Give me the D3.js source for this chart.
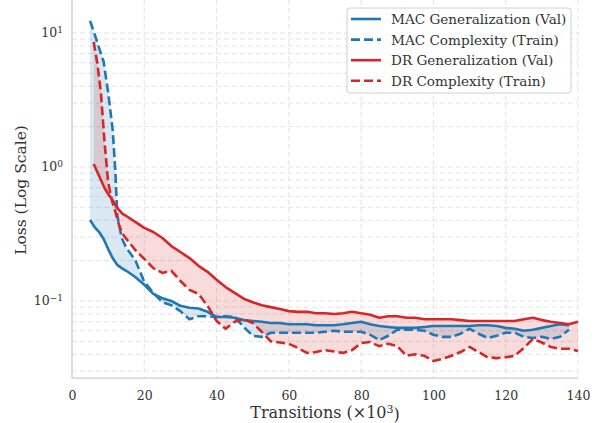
<!DOCTYPE html>
<html>
<head>
<meta charset="utf-8">
<script src="https://cdn.jsdelivr.net/npm/d3@7"></script>
<style>
  html, body { margin: 0; padding: 0; background: #fff; }
  svg { display: block; }
  text { font-family: "DejaVu Serif", serif; }
</style>
</head>
<body>
<svg id="chart" width="595" height="423"></svg>
<script>
// ---------------- data ----------------
const macX = [5, 6.25, 7.5, 8.75, 10, 11.25, 12, 12.5, 13.75, 15,
  17.5, 20, 22.5, 25, 27.5, 30, 32.5, 35, 37.5, 40,
  42.5, 45, 47.5, 50, 52.5, 55, 57.5, 60, 62.5, 65,
  67.5, 70, 72.5, 75, 77.5, 80, 82.5, 85, 87.5, 90,
  92.5, 95, 97.5, 100, 102.5, 105, 107.5, 110, 112.5, 115,
  117.5, 120, 122.5, 125, 127.5, 130, 132.5, 135, 137.5];
const macVal = [0.402, 0.356, 0.327, 0.290, 0.244, 0.209, 0.195, 0.186, 0.176, 0.168,
  0.151, 0.132, 0.113, 0.105, 0.100, 0.092, 0.089, 0.088, 0.083, 0.076,
  0.076, 0.075, 0.072, 0.071, 0.070, 0.0685, 0.0685, 0.067, 0.067, 0.067,
  0.066, 0.066, 0.066, 0.067, 0.0685, 0.070, 0.067, 0.065, 0.064, 0.063,
  0.063, 0.063, 0.064, 0.065, 0.065, 0.065, 0.065, 0.065, 0.066, 0.066,
  0.065, 0.063, 0.062, 0.060, 0.061, 0.063, 0.065, 0.067, 0.066];
const macTrain = [12.3, 9.8, 7.7, 6.1, 3.6, 1.9, 0.92, 0.44, 0.295, 0.25,
  0.202, 0.139, 0.115, 0.098, 0.093, 0.084, 0.073, 0.077, 0.077, 0.076,
  0.077, 0.076, 0.064, 0.055, 0.054, 0.058, 0.058, 0.058, 0.058, 0.058,
  0.058, 0.059, 0.060, 0.059, 0.059, 0.059, 0.056, 0.051, 0.055, 0.061,
  0.061, 0.061, 0.060, 0.056, 0.054, 0.054, 0.057, 0.062, 0.057, 0.053,
  0.055, 0.058, 0.058, 0.054, 0.053, 0.054, 0.052, 0.054, 0.061];

const drX = [6, 7, 8, 9, 10, 11, 12, 13, 14, 15,
  17.5, 20, 22.5, 25, 27.5, 30, 32.5, 35, 37.5, 40,
  42.5, 45, 47.5, 50, 52.5, 55, 57.5, 60, 62.5, 65,
  67.5, 70, 72.5, 75, 77.5, 80, 82.5, 85, 87.5, 90,
  92.5, 95, 97.5, 100, 102.5, 105, 107.5, 110, 112.5, 115,
  117.5, 120, 122.5, 125, 127.5, 130, 132.5, 135, 137.5, 140];
const drVal = [1.053, 0.918, 0.800, 0.697, 0.629, 0.577, 0.521, 0.478, 0.446, 0.431,
  0.389, 0.351, 0.327, 0.295, 0.257, 0.232, 0.209, 0.183, 0.165, 0.144,
  0.127, 0.115, 0.104, 0.098, 0.093, 0.090, 0.087, 0.084, 0.083, 0.083,
  0.081, 0.081, 0.080, 0.081, 0.083, 0.081, 0.079, 0.075, 0.077, 0.077,
  0.075, 0.075, 0.073, 0.073, 0.073, 0.073, 0.072, 0.071, 0.071, 0.071,
  0.071, 0.071, 0.071, 0.073, 0.075, 0.072, 0.070, 0.0685, 0.067, 0.070];
const drTrain = [8.57, 5.97, 3.57, 1.54, 0.773, 0.567, 0.462, 0.369, 0.316, 0.292,
  0.240, 0.206, 0.176, 0.162, 0.168, 0.141, 0.121, 0.113, 0.092, 0.071,
  0.062, 0.070, 0.073, 0.0685, 0.059, 0.050, 0.049, 0.048, 0.0446, 0.041,
  0.0416, 0.043, 0.042, 0.041, 0.043, 0.0486, 0.0494, 0.046, 0.048, 0.046,
  0.039, 0.040, 0.039, 0.0357, 0.037, 0.039, 0.0416, 0.0454, 0.0416, 0.038,
  0.0375, 0.038, 0.039, 0.0446, 0.052, 0.049, 0.0454, 0.044, 0.044, 0.0424];

const xTicks = [0, 20, 40, 60, 80, 100, 120, 140];
const yTicks = [0.1, 1, 10];
const yTickExp = ["\u22121", "0", "1"];
const legendLabels = ["MAC Generalization (Val)", "MAC Complexity (Train)",
  "DR Generalization (Val)", "DR Complexity (Train)"];

// ---------------- layout ----------------
const BLUE = "#1f77b4", RED = "#d62728";
const L = 72, R = 578, T = 2, B = 378;
const svg = d3.select("#chart");

const x = d3.scaleLinear().domain([0, 140]).range([L, R]);
const y = d3.scaleLog().domain([Math.pow(10, -1.5746), Math.pow(10, 1.231)]).range([B, T]);

// grid
const grid = svg.append("g");
const yGridVals = [];
for (let k = -2; k <= 1; k++) for (let m = 1; m <= 9; m++) {
  const v = m * Math.pow(10, k);
  if (v >= y.domain()[0] && v <= y.domain()[1]) yGridVals.push(v);
}
grid.selectAll("line.hy").data(yGridVals).join("line")
  .attr("x1", L).attr("x2", R)
  .attr("y1", d => y(d)).attr("y2", d => y(d))
  .attr("stroke", "#e4e4e4").attr("stroke-width", 1).attr("stroke-dasharray", "5,3");
grid.selectAll("line.vx").data(xTicks).join("line")
  .attr("x1", d => x(d)).attr("x2", d => x(d))
  .attr("y1", T - 2).attr("y2", B)
  .attr("stroke", "#e4e4e4").attr("stroke-width", 1).attr("stroke-dasharray", "5,3");

// fills
const mac = macX.map((d, i) => ({x: d, a: macVal[i], b: macTrain[i]}));
const dr = drX.map((d, i) => ({x: d, a: drVal[i], b: drTrain[i]}));
const area = d3.area().x(d => x(d.x)).y0(d => y(d.a)).y1(d => y(d.b));
svg.append("path").datum(mac).attr("d", area).attr("fill", BLUE).attr("fill-opacity", 0.17);
svg.append("path").datum(dr).attr("d", area).attr("fill", RED).attr("fill-opacity", 0.17);

// lines
const lineA = d3.line().x(d => x(d.x)).y(d => y(d.a));
const lineB = d3.line().x(d => x(d.x)).y(d => y(d.b));
function drawLine(data, gen, color, dashed) {
  svg.append("path").datum(data).attr("d", gen)
    .attr("fill", "none").attr("stroke", color).attr("stroke-width", 2.6)
    .attr("stroke-linejoin", "round")
    .attr("stroke-dasharray", dashed ? "9,4" : null);
}
drawLine(mac, lineA, BLUE, false);
drawLine(mac, lineB, BLUE, true);
drawLine(dr, lineA, RED, false);
drawLine(dr, lineB, RED, true);

// spines
svg.append("line").attr("x1", L).attr("x2", L).attr("y1", 0).attr("y2", B)
  .attr("stroke", "#cccccc").attr("stroke-width", 1.25);
svg.append("line").attr("x1", L).attr("x2", R).attr("y1", B).attr("y2", B)
  .attr("stroke", "#cccccc").attr("stroke-width", 1.25);

// x axis
const xAxis = svg.append("g").attr("transform", `translate(0,${B})`)
  .call(d3.axisBottom(x).tickValues(xTicks).tickSize(0).tickPadding(13).tickFormat(d3.format("d")));
xAxis.select(".domain").remove();
xAxis.selectAll("text").attr("font-family", "DejaVu Serif").attr("font-size", 12.5).attr("fill", "#333");

// y axis
const yAxis = svg.append("g").attr("transform", `translate(${L},0)`)
  .call(d3.axisLeft(y).tickValues(yTicks).tickSize(0).tickPadding(9).tickFormat(() => ""));
yAxis.select(".domain").remove();
yAxis.selectAll(".tick text").each(function(d, i) {
  const t = d3.select(this).attr("font-family", "DejaVu Serif").attr("font-size", 12.5).attr("fill", "#333");
  t.append("tspan").text("10");
  t.append("tspan").attr("dy", "-0.45em").attr("font-size", 9).text(yTickExp[i]);
});

// axis labels
const xl = svg.append("text").attr("x", (L + R) / 2).attr("y", 418)
  .attr("text-anchor", "middle").attr("font-size", 16).attr("fill", "#333");
xl.append("tspan").text("Transitions (\u00d710");
xl.append("tspan").attr("dy", "-0.45em").attr("font-size", 11).text("3");
xl.append("tspan").attr("dy", "0.45em").text(")");

svg.append("text").attr("transform", `translate(26,${(T + B) / 2}) rotate(-90)`)
  .attr("text-anchor", "middle").attr("font-size", 15.5).attr("fill", "#333")
  .text("Loss (Log Scale)");

// legend
const lg = svg.append("g");
lg.append("rect").attr("x", 347).attr("y", 8).attr("width", 224).attr("height", 85)
  .attr("rx", 3).attr("fill", "#fff").attr("fill-opacity", 0.85)
  .attr("stroke", "#d0d0d0").attr("stroke-width", 1);
const legColors = [BLUE, BLUE, RED, RED];
const legDash = [false, true, false, true];
legendLabels.forEach((lab, i) => {
  const cy = 19 + i * 20.6;
  lg.append("line").attr("x1", 351).attr("x2", 381).attr("y1", cy).attr("y2", cy)
    .attr("stroke", legColors[i]).attr("stroke-width", 2.6)
    .attr("stroke-dasharray", legDash[i] ? "9,4" : null);
  lg.append("text").attr("x", 391).attr("y", cy + 4.9).attr("font-size", 13.6)
    .attr("fill", "#333").text(lab);
});
</script>
</body>
</html>
